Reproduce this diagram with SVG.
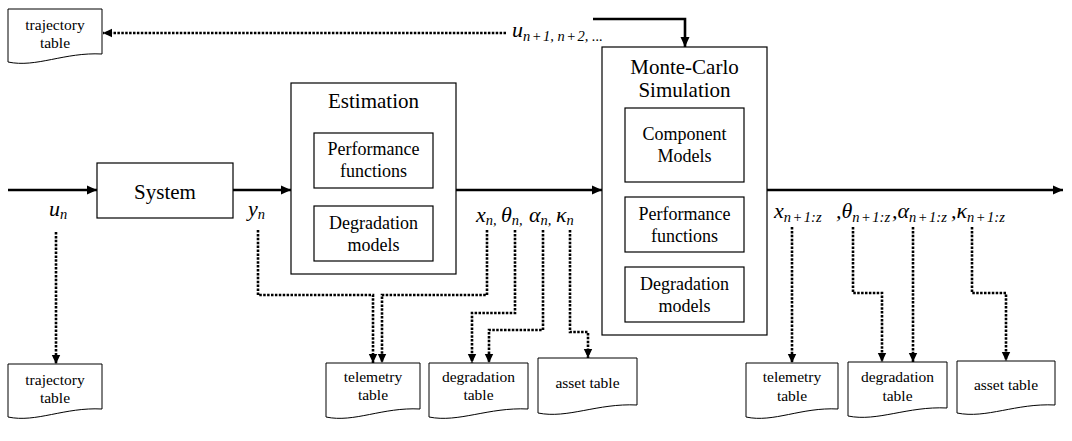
<svg xmlns="http://www.w3.org/2000/svg" width="1072" height="441" viewBox="0 0 1072 441">
<style>
.box{fill:#fff;stroke:#000;stroke-width:1.2}
.doc{fill:#fff;stroke:#000;stroke-width:1}
.t{font-family:"Liberation Serif","Times New Roman",serif;fill:#000;text-anchor:middle}
.big{font-size:21px}
.mid{font-size:18px}
.sm{font-size:15.5px}
.m{font-family:"Liberation Serif","Times New Roman",serif;font-style:italic;fill:#000;font-size:22px}
.s{font-size:14.5px}
.solid{fill:none;stroke:#000;stroke-width:2.6}
.dot{fill:none;stroke:#000;stroke-width:2.6;stroke-dasharray:2.5 1.4}
</style>
<defs>
<marker id="ah" markerUnits="userSpaceOnUse" markerWidth="12" markerHeight="12" viewBox="0 0 12 12" refX="10" refY="6" orient="auto">
<path d="M0,1.5 L10,6 L0,10.5 Z" fill="#000"/>
</marker>
<marker id="dh" markerUnits="userSpaceOnUse" markerWidth="12" markerHeight="12" viewBox="0 0 12 12" refX="9" refY="6" orient="auto">
<path d="M0,1.8 L9,6 L0,10.2 Z" fill="#000"/>
</marker>
</defs>

<g id="connectors">
<path class="solid" d="M8 190 H97" marker-end="url(#ah)"/>
<path class="solid" d="M233 190 H291" marker-end="url(#ah)"/>
<path class="solid" d="M456 190 H602" marker-end="url(#ah)"/>
<path class="solid" d="M767 190 H1063" marker-end="url(#ah)"/>
<path class="solid" d="M593 19 H685 V47" marker-end="url(#ah)"/>
<path class="dot" d="M506 33 H103" marker-end="url(#dh)"/>
<path class="dot" d="M56 232 V364" marker-end="url(#dh)"/>
<path class="dot" d="M258 230 V295 H373 V363" marker-end="url(#dh)"/>
<path class="dot" d="M487 230 V295 H382 V363" marker-end="url(#dh)"/>
<path class="dot" d="M515 230 V313 H472 V363" marker-end="url(#dh)"/>
<path class="dot" d="M543 230 V330 H489 V363" marker-end="url(#dh)"/>
<path class="dot" d="M570 230 V332 H588 V358" marker-end="url(#dh)"/>
<path class="dot" d="M792 227 V363" marker-end="url(#dh)"/>
<path class="dot" d="M853 227 V293 H882 V362" marker-end="url(#dh)"/>
<path class="dot" d="M913 227 V362" marker-end="url(#dh)"/>
<path class="dot" d="M972 227 V293 H1006 V361" marker-end="url(#dh)"/>
</g>

<g id="labels">
<text class="m" x="49" y="216">u<tspan class="s" dy="3">n</tspan></text>
<text class="m" x="248" y="216">y<tspan class="s" dy="3">n</tspan></text>
<text class="m" x="476" y="222">x<tspan class="s" dy="3">n,</tspan><tspan x="501" dy="-3">θ</tspan><tspan class="s" dy="3">n,</tspan><tspan x="529" dy="-3">α</tspan><tspan class="s" dy="3">n,</tspan><tspan x="556" dy="-3">κ</tspan><tspan class="s" dy="3">n</tspan></text>
<text class="m" x="774" y="218">x<tspan class="s" dy="4">n<tspan dx="1.5">+</tspan><tspan dx="1.5">1:z</tspan></tspan><tspan x="836" dy="-4">,θ</tspan><tspan class="s" dy="4">n<tspan dx="1.5">+</tspan><tspan dx="1.5">1:z</tspan></tspan><tspan x="892" dy="-4">,α</tspan><tspan class="s" dy="4">n<tspan dx="1.5">+</tspan><tspan dx="1.5">1:z</tspan></tspan><tspan x="951" dy="-4">,κ</tspan><tspan class="s" dy="4">n<tspan dx="1.5">+</tspan><tspan dx="1.5">1:z</tspan></tspan></text>
<text class="m" x="512" y="37">u<tspan class="s" dy="4">n<tspan dx="1.5">+</tspan><tspan dx="1.5">1, n</tspan><tspan dx="1.5">+</tspan><tspan dx="1.5">2, ...</tspan></tspan></text>
</g>

<g id="system">
<rect class="box" x="97" y="163" width="136" height="55"/>
<text class="t big" x="165" y="199">System</text>
</g>

<g id="estimation">
<rect class="box" x="291" y="83" width="165" height="191"/>
<text class="t big" x="373.5" y="108">Estimation</text>
</g>
<g id="est-performance">
<rect class="box" x="314" y="133" width="119" height="55"/>
<text class="t mid" x="373.5" y="155">Performance</text>
<text class="t mid" x="373.5" y="177">functions</text>
</g>
<g id="est-degradation">
<rect class="box" x="314" y="206" width="119" height="55"/>
<text class="t mid" x="373.5" y="229">Degradation</text>
<text class="t mid" x="373.5" y="251">models</text>
</g>

<g id="montecarlo">
<rect class="box" x="602" y="47" width="165" height="288"/>
<text class="t big" x="684.5" y="74">Monte-Carlo</text>
<text class="t big" x="684.5" y="97">Simulation</text>
</g>
<g id="mc-component">
<rect class="box" x="625" y="108" width="119" height="74"/>
<text class="t mid" x="684.5" y="140">Component</text>
<text class="t mid" x="684.5" y="162">Models</text>
</g>
<g id="mc-performance">
<rect class="box" x="625" y="197" width="119" height="55"/>
<text class="t mid" x="684.5" y="219.5">Performance</text>
<text class="t mid" x="684.5" y="241.5">functions</text>
</g>
<g id="mc-degradation">
<rect class="box" x="625" y="267" width="119" height="55"/>
<text class="t mid" x="684.5" y="289.5">Degradation</text>
<text class="t mid" x="684.5" y="311.5">models</text>
</g>

<g id="trajectory-top">
<path class="doc" d="M8 9 H102 V54 C64.4 52 36.2 68 8 62 Z"/>
<text class="t sm" x="55" y="30">trajectory</text>
<text class="t sm" x="55" y="48">table</text>
</g>
<g id="trajectory-bottom">
<path class="doc" d="M8 364 H102 V409 C64.4 407 36.2 423 8 417 Z"/>
<text class="t sm" x="55" y="385">trajectory</text>
<text class="t sm" x="55" y="403">table</text>
</g>
<g id="telemetry-1">
<path class="doc" d="M326 363 H420 V409 C382.4 407 354.2 423 326 417 Z"/>
<text class="t sm" x="373" y="382">telemetry</text>
<text class="t sm" x="373" y="400">table</text>
</g>
<g id="degradation-1">
<path class="doc" d="M429 363 H528 V409 C488.4 407 458.7 423 429 417 Z"/>
<text class="t sm" x="478.5" y="382">degradation</text>
<text class="t sm" x="478.5" y="400">table</text>
</g>
<g id="asset-1">
<path class="doc" d="M538 358 H637 V405 C597.4 403 567.7 419 538 413 Z"/>
<text class="t sm" x="587.5" y="388">asset table</text>
</g>
<g id="telemetry-2">
<path class="doc" d="M746 363 H838 V409 C801.2 407 773.6 423 746 417 Z"/>
<text class="t sm" x="792" y="382">telemetry</text>
<text class="t sm" x="792" y="401">table</text>
</g>
<g id="degradation-2">
<path class="doc" d="M848 362 H947 V408 C907.4 406 877.7 422 848 416 Z"/>
<text class="t sm" x="897.5" y="382">degradation</text>
<text class="t sm" x="897.5" y="401">table</text>
</g>
<g id="asset-2">
<path class="doc" d="M957 361 H1055 V405 C1015.8 403 986.4 419 957 413 Z"/>
<text class="t sm" x="1006" y="390">asset table</text>
</g>
</svg>
